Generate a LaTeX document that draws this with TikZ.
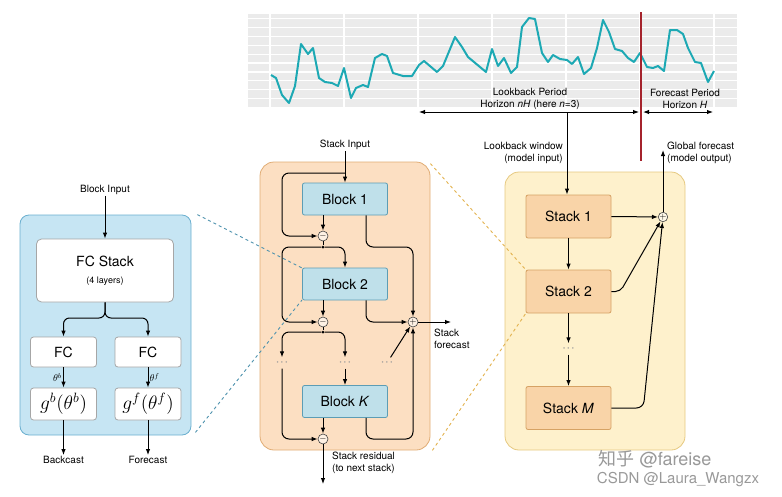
\documentclass[tikz,border=0pt]{standalone}
\usepackage{fontspec}
\setmainfont{TeX Gyre Heros}
\newfontfamily\cjk{Noto Sans CJK SC}
\usepackage{xcolor}
\usetikzlibrary{arrows.meta,positioning}
\definecolor{blockfill}{HTML}{BFE0EA}
\definecolor{blockline}{HTML}{5C9DB5}
\definecolor{bluepanel}{HTML}{C6E5F3}
\definecolor{bluepanelline}{HTML}{6AAFCF}
\definecolor{orangepanel}{HTML}{FCDFC2}
\definecolor{orangepanelline}{HTML}{E0AC74}
\definecolor{yellowpanel}{HTML}{FEF1CC}
\definecolor{yellowpanelline}{HTML}{E6C980}
\definecolor{stackfill}{HTML}{F9D4A8}
\definecolor{stackline}{HTML}{D6A264}
\definecolor{seriescol}{HTML}{1DA9B4}
\definecolor{cutline}{HTML}{A5232C}
\definecolor{chartbg}{HTML}{EBEBEB}
\definecolor{bluedash}{HTML}{4F93AE}
\definecolor{yellowdash}{HTML}{E2B24E}
\newcommand{\nbbig}[1]{\scalebox{1.35}{$#1$}}
\newcommand{\nbellipsis}{\textbullet\hspace{2.2pt}\textbullet\hspace{2.2pt}\textbullet}
\tikzset{
  nbpanel/.style={draw, rounded corners=14pt, line width=0.8pt},
  nbblock/.style={draw=blockline, fill=blockfill, rounded corners=2pt, line width=0.8pt, minimum width=85pt, minimum height=32pt, font=\fontsize{14}{16}\selectfont},
  nbstack/.style={draw=stackline, fill=stackfill, rounded corners=2pt, line width=0.8pt, minimum width=85pt, minimum height=43pt, font=\fontsize{14}{16}\selectfont},
  nbwhite/.style={draw=black!35, fill=white, rounded corners=5pt, line width=0.8pt, font=\fontsize{14}{16}\selectfont},
  nbop/.style={circle, draw=black!75, fill=white!55!orangepanel, line width=0.6pt, inner sep=0pt, minimum size=10pt, font=\fontsize{9}{9}\selectfont},
  nbdot/.style={circle, fill=black, inner sep=0pt, minimum size=3pt},
  nbdots/.style={inner sep=4pt, text=black!40, font=\fontsize{6}{6}\selectfont},
  nbarrow/.style={-{Latex[length=6pt,width=4.5pt]}, line width=1pt},
  nbboth/.style={{Latex[length=6pt,width=4.5pt]}-{Latex[length=6pt,width=4.5pt]}, line width=1pt},
  nbline/.style={line width=1pt},
  nblabel/.style={font=\fontsize{10}{12}\selectfont, align=center, inner sep=1pt},
  nbmark/.style={text=black!40, inner sep=0pt}
}
\begin{document}
\begin{tikzpicture}[x=1pt, y=-1pt]
  \useasboundingbox (0,0) rectangle (782,496);

  \fill[chartbg] (248,14) rectangle (737,107);
  \foreach \k in {0,...,9} \draw[white, line width=1.2pt] (248,{18.5+8.9*\k}) -- (737,{18.5+8.9*\k});
  \foreach \x in {270,344,418,492,566,640,714} \draw[white, line width=1.2pt] (\x,14) -- (\x,107);
  \draw[seriescol, line width=2pt, line join=round] plot coordinates {(271,75) (276,78) (282,95) (289,103) (295,86) (301,44) (308,54) (313,48) (319,78) (325,82) (332,83) (338,86) (344,68) (351,98) (356,88) (363,85) (368,87) (375,58) (382,54) (387,56) (393,73) (403,76) (412,76) (419,65) (424,61) (437,72) (443,66) (455,37) (462,47) (468,57) (486,72) (492,49) (498,66) (504,58) (511,73) (517,67) (522,27) (529,18) (535,19) (542,53) (548,62) (553,55) (560,59) (567,60) (572,64) (578,57) (584,74) (591,68) (597,48) (603,20) (609,32) (615,49) (622,51) (628,58) (634,62) (640,53) (647,67) (653,68) (658,66) (664,71) (670,30) (677,30) (683,34) (688,48) (695,62) (701,63) (708,82) (714,71)};
  \draw[cutline, line width=2pt] (641,12) -- (641,161);

  \coordinate (lbL) at (419,112);
  \coordinate (lbR) at (639,112);
  \coordinate (lbmid) at (567,112);
  \coordinate (fcL) at (643,112);
  \coordinate (fcR) at (713,112);
  \node[nblabel] (lbtext) at (530,99) {Lookback Period\\Horizon \textit{nH} (here \textit{n}=3)};
  \node[nblabel] (fctext) at (685,99) {Forecast Period\\Horizon \textit{H}};
  \draw[nbboth] (lbL) -- (lbR);
  \draw[nbboth] (fcL) -- (fcR);

  \node[nbpanel, draw=bluepanelline, fill=bluepanel, rounded corners=9pt, minimum width=171pt, minimum height=220pt] (lpanel) at (105.5,325) {};
  \node[nbpanel, draw=orangepanelline, fill=orangepanel, minimum width=170pt, minimum height=288pt] (mpanel) at (345,306) {};
  \node[nbpanel, draw=yellowpanelline, fill=yellowpanel, minimum width=180pt, minimum height=278pt] (rpanel) at (595,311) {};

  \draw[bluedash, dashed, line width=0.9pt] ([xshift=6pt]lpanel.north east) -- (302,268);
  \draw[bluedash, dashed, line width=0.9pt] ([xshift=4pt,yshift=3pt]lpanel.south east) -- (302,300);
  \draw[yellowdash, dashed, line width=0.9pt] ([yshift=-2pt]mpanel.north east) -- (526,270);
  \draw[yellowdash, dashed, line width=0.9pt] ([xshift=2pt]mpanel.south east) -- (526,313);

  \node[nblabel] (blockin) at (105,190) {Block Input};
  \node[nbwhite, minimum width=137pt, minimum height=63pt, align=center] (fcstack) at (105,270.5) {FC Stack\\[1pt]{\fontsize{9}{10}\selectfont (4 layers)}};
  \coordinate (split) at (105,318);
  \node[nbwhite, rounded corners=3pt, minimum width=66pt, minimum height=30pt] (fcb) at (63.5,352) {FC};
  \node[nbwhite, rounded corners=3pt, minimum width=66pt, minimum height=30pt] (fcf) at (148,352) {FC};
  \node[nbwhite, rounded corners=3pt, minimum width=66pt, minimum height=32pt, inner sep=0pt] (gb) at (63.5,404) {\nbbig{g^b(\theta^b)}};
  \node[nbwhite, rounded corners=3pt, minimum width=66pt, minimum height=32pt, inner sep=0pt] (gf) at (148,404) {\nbbig{g^f(\theta^f)}};
  \node[nblabel] (backcast) at (63.5,460) {Backcast};
  \node[nblabel] (forecast) at (148,460) {Forecast};

  \draw[nbarrow] (blockin) -- (fcstack);
  \draw[nbarrow, rounded corners=6pt] (fcstack.south) -- (split) -| (fcb.north);
  \draw[nbarrow, rounded corners=6pt] (fcstack.south) -- (split) -| (fcf.north);
  \draw[nbarrow] (fcb) -- node[left, nblabel] {$\theta^b$} (gb);
  \draw[nbarrow] (fcf) -- node[right, nblabel] {$\theta^f$} (gf);
  \draw[nbarrow] (gb) -- (backcast);
  \draw[nbarrow] (gf) -- (forecast);

  \node[nblabel] (stackin) at (345,145) {Stack Input};
  \coordinate (sbr) at (345,173);
  \node[nbblock] (block1) at (345,199) {Block 1};
  \node[nbblock] (block2) at (345,284) {Block 2};
  \node[nbblock] (blockK) at (345,401.5) {Block \textit{K}};
  \node[nbop] (minus1) at (323,236) {$-$};
  \node[nbop] (minus2) at (323,322) {$-$};
  \node[nbop] (minus3) at (323,439) {$-$};
  \node[nbop] (plus) at (413,322) {$+$};
  \node[nbdot] (j1) at (323,247) {};
  \node[nbdot] (j2) at (323,332) {};
  \node[nbdots] (d1) at (282,363) {\nbellipsis};
  \node[nbdots] (d2) at (345,363) {\nbellipsis};
  \node[nbdots] (d3) at (387,363) {\nbellipsis};
  \coordinate (resid) at (323,484);
  \coordinate (sfout) at (451,322);
  \node[nblabel, align=left, anchor=north west] (sftext) at (433,328) {Stack\\forecast};
  \node[nblabel, align=left, anchor=north west] (restext) at (331,451) {Stack residual\\(to next stack)};

  \draw[nbarrow] (stackin) -- (block1);
  \draw[nbarrow, rounded corners=7pt] (sbr) -| (d1 |- minus1) -- (minus1);
  \draw[nbarrow] (block1.south -| minus1) -- (minus1);
  \draw[nbarrow, rounded corners=7pt] ([xshift=21pt]block1.south) |- (plus |- j1) -- (plus);
  \draw[nbline] (minus1) -- (j1);
  \draw[nbarrow, rounded corners=7pt] (j1) -| (d1 |- minus2) -- (minus2);
  \draw[nbarrow, rounded corners=7pt] (j1) -| (block2.north);
  \draw[nbarrow] (block2.south -| minus2) -- (minus2);
  \draw[nbarrow, rounded corners=7pt] ([xshift=21pt]block2.south) |- (plus);
  \draw[nbline] (minus2) -- (j2);
  \draw[nbarrow, rounded corners=7pt] (j2) -| (d1.north);
  \draw[nbarrow, rounded corners=7pt] (j2) -| (d2.north);
  \draw[nbarrow] (d2) -- (blockK);
  \draw[nbarrow] (d3) -- (plus);
  \draw[nbarrow, rounded corners=7pt] (d1) |- (minus3);
  \draw[nbarrow] (blockK.south -| minus3) -- (minus3);
  \draw[nbarrow, rounded corners=7pt] ([xshift=21pt]blockK.south) |- (plus |- minus3) -- (plus);
  \draw[nbarrow] (minus3) -- (resid);
  \draw[nbarrow] (plus) -- (sfout);

  \node[nblabel, align=right, anchor=east] (lbwin) at (564,153) {Lookback window\\(model input)};
  \node[nblabel, align=left, anchor=west] (gftext) at (666,153) {Global forecast\\(model output)};
  \node[nbstack] (stack1) at (568.5,216.5) {Stack 1};
  \node[nbstack] (stack2) at (568.5,291.5) {Stack 2};
  \node[nbdots] (sdots) at (568.5,349) {\nbellipsis};
  \node[nbstack] (stackM) at (568.5,408) {Stack \textit{M}};
  \node[nbop, minimum size=9pt, fill=white!55!yellowpanel] (gplus) at (663,217) {$+$};
  \coordinate (gout) at (663,150);

  \draw[nbarrow] (lbmid) -- (lbmid |- stack1.north);
  \draw[nbarrow] (stack1) -- (stack2);
  \draw[nbarrow] (stack2) -- (sdots);
  \draw[nbarrow] (sdots) -- (stackM);
  \draw[nbarrow] (stack1.east) -- (gplus);
  \draw[nbarrow, rounded corners=5pt] (stack2.east) -- ++(9,0) -- (gplus);
  \draw[nbarrow, rounded corners=7pt] (stackM.east) -- ++(32,0) -- (gplus);
  \draw[nbarrow] (gplus) -- (gout);

  \node[nbmark, font=\fontsize{18}{20}\selectfont] (wm1) at (655,459) {{\cjk 知乎} @fareise};
  \node[nbmark, font=\fontsize{15}{17}\selectfont] (wm2) at (678,480) {CSDN @Laura\_Wangzx};
\end{tikzpicture}
\end{document}
